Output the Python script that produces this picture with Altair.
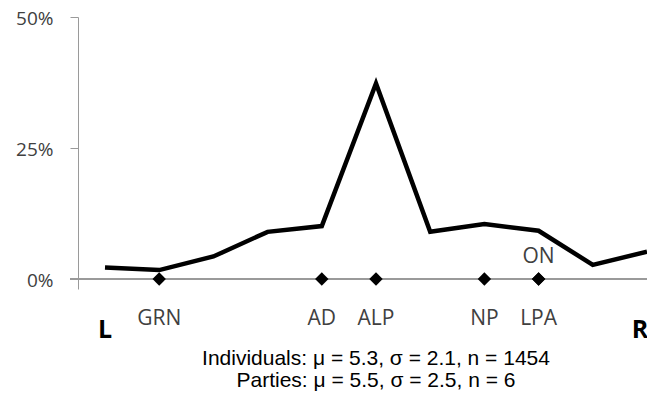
import altair as alt
import pandas as pd

# Left-right scale positions 0..10
positions = list(range(11))
# Share of individuals at each position (%)
shares = [2.2, 1.7, 4.3, 9.0, 10.1, 37.3, 9.0, 10.5, 9.2, 2.7, 5.2]

# Parties and their placements
party_names = ["GRN", "AD", "ALP", "NP", "LPA", "ON"]
party_positions = [1, 4, 5, 7, 8, 8]
party_label_side = ["below", "below", "below", "below", "below", "above"]

y_ticks = [0, 0.25, 0.5]
end_labels = ["L", "R"]
end_shift = [0, -7]
stats_lines = [
    "Individuals: \u03bc = 5.3, \u03c3 = 2.1, n = 1454",
    "Parties: \u03bc = 5.5, \u03c3 = 2.5, n = 6",
]

line_df = pd.DataFrame({"x": positions, "y": [s / 100 for s in shares]})
party_df = pd.DataFrame({"x": party_positions, "y": [0] * len(party_names),
                         "name": party_names, "side": party_label_side})
mid = (positions[0] + positions[-1]) / 2
stats_df = pd.DataFrame({"x": [mid], "y": [0], "t1": [stats_lines[0]], "t2": [stats_lines[1]]})

W, H = 569, 272
xscale = alt.Scale(domain=[-0.498, 10.0], nice=False, zero=False)
yscale = alt.Scale(domain=[-0.0191, 0.5], nice=False, zero=False)
yaxis = alt.Axis(values=y_ticks, format=".0%", title=None, grid=False,
                 domainColor="#9a9a9a", tickColor="#9a9a9a", tickSize=8,
                 labelPadding=17, labelFont="Open Sans", labelFontSize=19,
                 labelOffset=1.5,
                 labelColor="#404040", domainWidth=1, tickWidth=1)

X = lambda: alt.X("x:Q", scale=xscale, axis=None)
Y = lambda: alt.Y("y:Q", scale=yscale, axis=yaxis)

baseline = alt.Chart(line_df).mark_rule(color="#9a9a9a", strokeWidth=1).encode(
    x=alt.value(-8), x2=alt.value(W), y=alt.Y("zero:Q", scale=yscale, axis=yaxis)
).transform_calculate(zero="0")

line = alt.Chart(line_df).mark_line(color="black", strokeWidth=4.5, strokeJoin="miter").encode(x=X(), y=Y())

diamonds = alt.Chart(party_df).mark_point(shape="diamond", filled=True, color="black",
                                          size=180, opacity=1).encode(x=X(), y=Y())

below_labels = alt.Chart(party_df).transform_filter("datum.side == 'below'").mark_text(
    font="Open Sans", fontSize=21, color="#404040", baseline="alphabetic", dy=46
).encode(x=X(), y=Y(), text="name:N")

above_labels = alt.Chart(party_df).transform_filter("datum.side == 'above'").mark_text(
    font="Open Sans", fontSize=21, color="#404040", baseline="alphabetic", dy=-16
).encode(x=X(), y=Y(), text="name:N")

ends_L = alt.Chart(pd.DataFrame({"x": [positions[0]], "y": [0], "t": [end_labels[0]]})).mark_text(
    font="Open Sans", fontSize=25, fontWeight="bold", color="black", baseline="alphabetic",
    dy=59, dx=end_shift[0]
).encode(x=X(), y=Y(), text="t:N")
ends_R = alt.Chart(pd.DataFrame({"x": [positions[-1]], "y": [0], "t": [end_labels[1]]})).mark_text(
    font="Open Sans", fontSize=25, fontWeight="bold", color="black", baseline="alphabetic",
    dy=59, dx=end_shift[1]
).encode(x=X(), y=Y(), text="t:N")

stats1 = alt.Chart(stats_df).mark_text(
    font="Liberation Sans", fontSize=21, color="black", baseline="alphabetic", dy=86
).encode(x=X(), y=Y(), text="t1:N")
stats2 = alt.Chart(stats_df).mark_text(
    font="Liberation Sans", fontSize=21, color="black", baseline="alphabetic", dy=108
).encode(x=X(), y=Y(), text="t2:N")

chart = alt.layer(baseline, line, diamonds, below_labels, above_labels, ends_L, ends_R,
                  stats1, stats2).properties(
    width=W, height=H,
    autosize=alt.AutoSizeParams(type="none"),
    padding={"left": 70, "top": 9, "right": 0, "bottom": 103},
).configure_view(stroke=None)

chart.save("out.html", embed_options={"renderer": "svg", "actions": False})
